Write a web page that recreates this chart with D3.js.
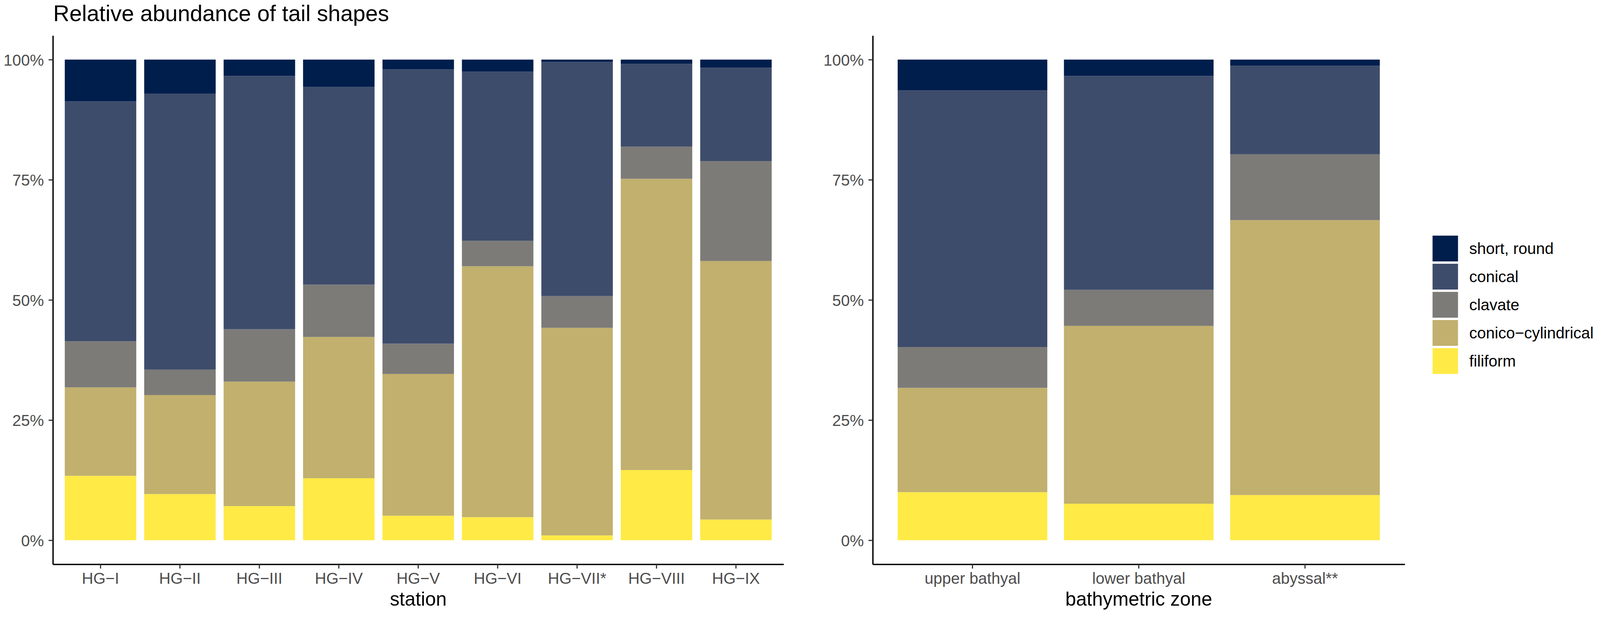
<!DOCTYPE html>
<html>
<head>
<meta charset="utf-8">
<script src="https://cdn.jsdelivr.net/npm/d3@7"></script>
<style>
  html, body { margin: 0; padding: 0; background: #fff; overflow: hidden; }
  svg { display: block; }
  text { font-family: "Liberation Sans", Arial, sans-serif; }
</style>
</head>
<body>
<script>
// Categories
const stations = ["HG−I", "HG−II", "HG−III", "HG−IV", "HG−V", "HG−VI", "HG−VII*", "HG−VIII", "HG−IX"];
const zones = ["upper bathyal", "lower bathyal", "abyssal**"];

// Tail shapes, bottom of the stack first
const shapes = ["filiform", "conico−cylindrical", "clavate", "conical", "short, round"];
const shapeColors = ["#FFEA46", "#C1B06E", "#7C7B78", "#3E4C6B", "#001E4C"];

// Percentages per station
const filiformSt   = [13.4,  9.6,  7.1, 12.9,  5.1,  4.8,  1.0, 14.6,  4.3];
const conicoSt     = [18.4, 20.6, 25.9, 29.4, 29.5, 52.2, 43.2, 60.6, 53.8];
const clavateSt    = [ 9.6,  5.3, 10.9, 10.9,  6.3,  5.3,  6.6,  6.7, 20.8];
const conicalSt    = [49.9, 57.4, 52.7, 41.1, 57.1, 35.2, 48.7, 17.2, 19.4];
const shortRoundSt = [ 8.7,  7.1,  3.4,  5.7,  2.0,  2.5,  0.5,  0.9,  1.7];

// Percentages per bathymetric zone
const filiformZn   = [10.0,  7.6,  9.4];
const conicoZn     = [21.7, 37.0, 57.2];
const clavateZn    = [ 8.5,  7.5, 13.7];
const conicalZn    = [53.4, 44.5, 18.4];
const shortRoundZn = [ 6.4,  3.4,  1.3];

const yTicks = [0, 0.25, 0.5, 0.75, 1];

const width = 4147, height = 1579;

// viewBox keeps the drawing at full size whatever the window
const svg = d3.select("body")
  .append("svg")
  .attr("viewBox", `0 0 ${width} ${height}`)
  .attr("preserveAspectRatio", "none")
  .style("width", "100vw")
  .style("height", "100vh");

svg.append("rect").attr("width", width).attr("height", height).attr("fill", "#fff");

const color = d3.scaleOrdinal().domain(shapes).range(shapeColors);

// shared vertical scale (ggplot adds 5% on each side)
const plotTop = 91, plotBottom = 1444;
const y = d3.scaleLinear().domain([-0.05, 1.05]).range([plotBottom, plotTop]);

// build rows for d3.stack from the arrays
function makeRows(cats, cols) {
  return cats.map((c, i) => {
    const row = { cat: c };
    shapes.forEach((s, j) => { row[s] = cols[j][i]; });
    return row;
  });
}

function drawPanel(cats, cols, x0, x1, axisTitle, titleY) {
  const rows = makeRows(cats, cols);
  const stack = d3.stack().keys(shapes).offset(d3.stackOffsetExpand);
  const series = stack(rows);

  const x = d3.scaleBand()
    .domain(cats)
    .range([x0, x1])
    .paddingInner(0.1)
    .paddingOuter(0.15);

  const g = svg.append("g");

  g.selectAll(".layer")
    .data(series)
    .enter()
    .append("g")
    .attr("class", "layer")
    .attr("fill", d => color(d.key))
    .selectAll("rect")
    .data(d => d)
    .enter()
    .append("rect")
    .attr("x", d => x(d.data.cat))
    .attr("width", x.bandwidth())
    .attr("y", d => y(d[1]))
    .attr("height", d => y(d[0]) - y(d[1]));

  // x axis
  const xAxis = g.append("g")
    .attr("transform", `translate(0, ${plotBottom})`)
    .call(d3.axisBottom(x).tickSize(11).tickSizeOuter(0).tickPadding(10));

  // y axis
  const yAxis = g.append("g")
    .attr("transform", `translate(${x0}, 0)`)
    .call(d3.axisLeft(y).tickValues(yTicks).tickFormat(d3.format(".0%"))
      .tickSize(11).tickSizeOuter(0).tickPadding(12));

  [xAxis, yAxis].forEach(ax => {
    ax.select(".domain").attr("stroke", "#000").attr("stroke-width", 3.5);
    ax.selectAll(".tick line").attr("stroke", "#333").attr("stroke-width", 3);
    ax.selectAll(".tick text")
      .attr("fill", "#4D4D4D")
      .style("font-size", "41px")
      .style("font-family", "'Liberation Sans', Arial, sans-serif");
  });
  yAxis.selectAll(".tick text").attr("dy", "0.36em");

  // axis title
  g.append("text")
    .attr("x", (x0 + x1) / 2)
    .attr("y", titleY)
    .attr("text-anchor", "middle")
    .attr("fill", "#000")
    .style("font-size", "50px")
    .text(axisTitle);
}

drawPanel(stations, [filiformSt, conicoSt, clavateSt, conicalSt, shortRoundSt], 137, 2031, "station", 1550);
drawPanel(zones, [filiformZn, conicoZn, clavateZn, conicalZn, shortRoundZn], 2262, 3641, "bathymetric zone", 1550);

// Title
svg.append("text")
  .attr("x", 138)
  .attr("y", 54)
  .attr("fill", "#000")
  .style("font-size", "58px")
  .text("Relative abundance of tail shapes");

// Legend, top entry is the top of the stack
const legend = svg.selectAll(".legend")
  .data(shapes.slice().reverse())
  .enter()
  .append("g")
  .attr("class", "legend")
  .attr("transform", (d, i) => `translate(3713, ${603 + i * 72})`);

legend.append("rect")
  .attr("width", 66)
  .attr("height", 66)
  .attr("fill", d => color(d));

legend.append("text")
  .attr("x", 95)
  .attr("y", 33)
  .attr("dy", "0.35em")
  .attr("fill", "#000")
  .style("font-size", "41px")
  .text(d => d);
</script>
</body>
</html>
